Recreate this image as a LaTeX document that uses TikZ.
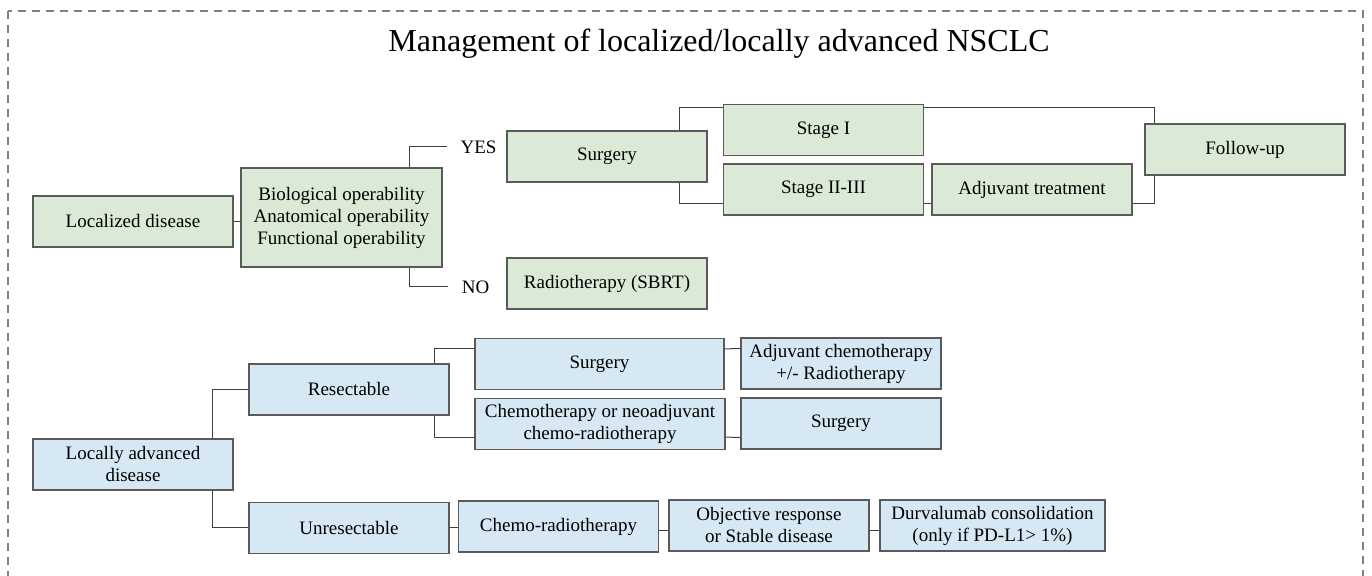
\documentclass[tikz,border=0pt]{standalone}
\usepackage{fontspec}
\setmainfont{Liberation Serif}
\usetikzlibrary{positioning}

\definecolor{greenfill}{HTML}{DBEAD7}
\definecolor{bluefill}{HTML}{D5E8F3}
\definecolor{boxline}{HTML}{5A5A5A}
\definecolor{linkgray}{HTML}{404040}
\definecolor{framegray}{HTML}{808080}

\begin{document}
\begin{tikzpicture}[
    x=0.5pt, y=-0.5pt,
    greenbox/.style={draw=boxline, line width=0.55pt, rectangle, fill=greenfill,
                     align=center, font=\fontsize{9.5}{11}\selectfont,
                     inner sep=1pt, minimum width=100pt, minimum height=25.5pt},
    bluebox/.style={greenbox, fill=bluefill},
    link/.style={draw=linkgray, line width=0.5pt},
    answer/.style={font=\fontsize{9.5}{11}\selectfont, inner ysep=0pt, inner xsep=6.5pt}
]
    \useasboundingbox (0,0) rectangle (1372,576);
    \draw[framegray, line width=0.7pt, dash pattern=on 4pt off 3pt]
        (8,11) rectangle (1363,590);

    % --- Title ---
    \node[anchor=base, font=\fontsize{16}{19}\selectfont] (title) at (719,52)
        {Management of localized/locally advanced NSCLC};

    % --- Localized disease ---
    \node[greenbox] (locd) at (133,221.5) {Localized disease};
    \node[greenbox, minimum width=100.5pt, minimum height=49.5pt] (oper) at (341.5,217.5)
        {Biological operability\\Anatomical operability\\Functional operability};
    \node[answer] (yes) at (478.5,147) {YES};
    \node[answer] (no)  at (475.5,287) {NO};
    \node[greenbox] (surg)     at (607,156.5)  {Surgery};
    \node[greenbox] (sbrt)     at (607,283.5)  {Radiotherapy (SBRT)};
    \node[greenbox] (stage1)   at (823.5,130)  {Stage I};
    \node[greenbox] (stage23)  at (823.5,189.5) {Stage II-III};
    \node[greenbox] (adjtreat) at (1032,189.5) {Adjuvant treatment};
    \node[greenbox] (followup) at (1245,149.5) {Follow-up};

    % --- Locally advanced disease ---
    \node[bluebox] (lad)      at (133,464.5) {Locally advanced\\disease};
    \node[bluebox] (resect)   at (349,389.5) {Resectable};
    \node[bluebox] (unres)    at (349,528)   {Unresectable};
    \node[bluebox, minimum width=124.5pt] (bsurg)    at (599.5,364) {Surgery};
    \node[bluebox, minimum width=125pt]   (chemoneo) at (600,424)
        {Chemotherapy or neoadjuvant\\chemo-radiotherapy};
    \node[bluebox] (adjchemo) at (841,363.5) {Adjuvant chemotherapy\\+/- Radiotherapy};
    \node[bluebox] (bsurg2)   at (841,423.5) {Surgery};
    \node[bluebox] (chemort)  at (558.5,526.5) {Chemo-radiotherapy};
    \node[bluebox] (objresp)  at (769,525.5) {Objective response\\or Stable disease};
    \node[bluebox, minimum width=112.5pt] (durva) at (992.5,525.5)
        {Durvalumab consolidation\\(only if PD-L1> 1\%)};

    % --- Connections (top) ---
    \draw[link] (locd.east) -- (locd.east -| oper.west);
    \draw[link] ([xshift=-16.5pt]oper.north east) |- (yes.west);
    \draw[link] ([xshift=-16.5pt]oper.south east) |- (no.west);
    \draw[link] ([xshift=-14pt]surg.north east) |- ([yshift=-2pt]stage1.north west);
    \draw[link] ([xshift=-14pt]surg.south east) |- ([yshift=6pt]stage23.south west);
    \draw[link] ([yshift=6pt]stage23.south east) -- ([yshift=6pt]adjtreat.south west);
    \draw[link] ([yshift=-2pt]stage1.north east) -| ([xshift=5pt]followup.north west);
    \draw[link] ([yshift=6pt]adjtreat.south east) -| ([xshift=5pt]followup.south west);

    % --- Connections (bottom) ---
    \draw[link] ([xshift=-10.5pt]lad.north east) |- (resect.west);
    \draw[link] ([xshift=-10.5pt]lad.south east) |- (unres.west);
    \draw[link] ([xshift=-7.5pt]resect.north east) |- ([yshift=-5.5pt]bsurg.north west);
    \draw[link] ([xshift=-7.5pt]resect.south east) |- ([yshift=6.5pt]chemoneo.south west);
    \draw[link] ([yshift=-5.5pt]bsurg.north east) -- ([yshift=-5.5pt]adjchemo.north west);
    \draw[link] ([yshift=6.5pt]chemoneo.south east) -- ([yshift=6pt]bsurg2.south west);
    \draw[link] (unres.east) -- (unres.east -| chemort.west);
    \draw[link] ([yshift=-2pt]chemort.east) -- ([yshift=-2pt]chemort.east -| objresp.west);
    \draw[link] ([yshift=-2.5pt]objresp.east) -- ([yshift=-2.5pt]objresp.east -| durva.west);
\end{tikzpicture}
\end{document}
